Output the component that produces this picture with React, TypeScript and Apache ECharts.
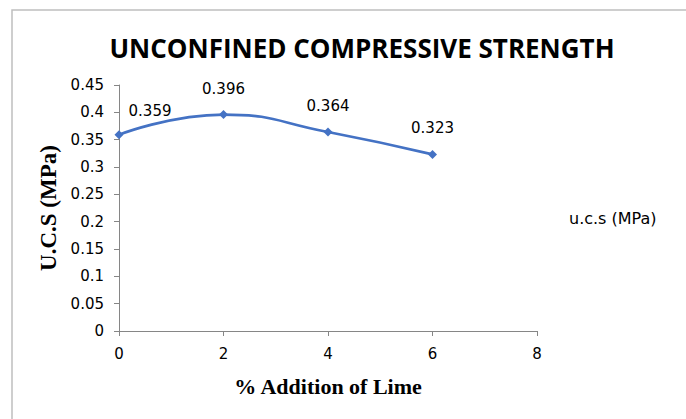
import React, { useEffect, useRef } from "react";
import * as echarts from "echarts";

const xValues = [0, 2, 4, 6];
const ucsValues = [0.359, 0.396, 0.364, 0.323];
const seriesName = "u.c.s (MPa)";
const titleText = "UNCONFINED COMPRESSIVE STRENGTH";
const xAxisName = "% Addition of Lime";
const yAxisName = "U.C.S (MPa)";

export default function App() {
  const ref = useRef<HTMLDivElement>(null);
  useEffect(() => {
    document.body.style.margin = "0";
    const chart = echarts.init(ref.current!, null, { renderer: "svg" });
    const sans = "DejaVu Sans";
    const axisColor = "#868686";
    chart.setOption({
      animation: false,
      backgroundColor: "#ffffff",
      title: {
        text: titleText,
        left: 357,
        top: 30,
        textAlign: "center",
        textStyle: { fontFamily: "Open Sans", fontWeight: "bold", fontSize: 26, color: "#000" },
      },
      legend: {
        data: [{ name: seriesName, icon: "none" }],
        left: 559,
        top: 205,
        itemWidth: 0,
        itemGap: 0,
        textStyle: { fontFamily: sans, fontSize: 16, color: "#000" },
      },
      graphic: [
        {
          type: "rect",
          shape: { x: 12, y: 10, width: 700, height: 430 },
          style: { fill: "none", stroke: "#bfbfbf", lineWidth: 1.5 },
          silent: true,
        },
      ],
      grid: { left: 119, right: 149, top: 85, bottom: 88 },
      xAxis: {
        type: "value",
        min: 0,
        max: 8,
        interval: 2,
        name: xAxisName,
        nameLocation: "middle",
        nameGap: 44,
        nameTextStyle: { fontFamily: "Liberation Serif", fontWeight: "bold", fontSize: 22, color: "#000" },
        axisLine: { show: true, lineStyle: { color: axisColor } },
        axisTick: { show: true, length: 5, lineStyle: { color: axisColor } },
        axisLabel: { fontFamily: sans, fontSize: 15, color: "#000", margin: 15 },
        splitLine: { show: false },
      },
      yAxis: {
        type: "value",
        min: 0,
        max: 0.45,
        interval: 0.05,
        name: yAxisName,
        nameLocation: "middle",
        nameGap: 59,
        nameTextStyle: { fontFamily: "Liberation Serif", fontWeight: "bold", fontSize: 23, color: "#000" },
        axisLine: { show: true, lineStyle: { color: axisColor } },
        axisTick: { show: true, length: 5, lineStyle: { color: axisColor } },
        axisLabel: { fontFamily: sans, fontSize: 15, color: "#000", margin: 15 },
        splitLine: { show: false },
      },
      series: [
        {
          name: seriesName,
          type: "line",
          smooth: true,
          symbol: "diamond",
          symbolSize: 9,
          data: xValues.map((x, i) => {
            const item: any = { value: [x, ucsValues[i]] };
            if (i === 0) item.label = { offset: [31, 2] };
            return item;
          }),
          itemStyle: { color: "#4472C4" },
          lineStyle: { color: "#4472C4", width: 2.75 },
          label: {
            show: true,
            position: "top",
            distance: 14,
            fontFamily: sans,
            fontSize: 15,
            color: "#000",
            formatter: (p: any) => String(p.value[1]),
          },
        },
      ],
    });
    return () => chart.dispose();
  }, []);
  return <div ref={ref} style={{ width: 686, height: 419, position: "fixed", left: 0, top: 0 }} />;
}
